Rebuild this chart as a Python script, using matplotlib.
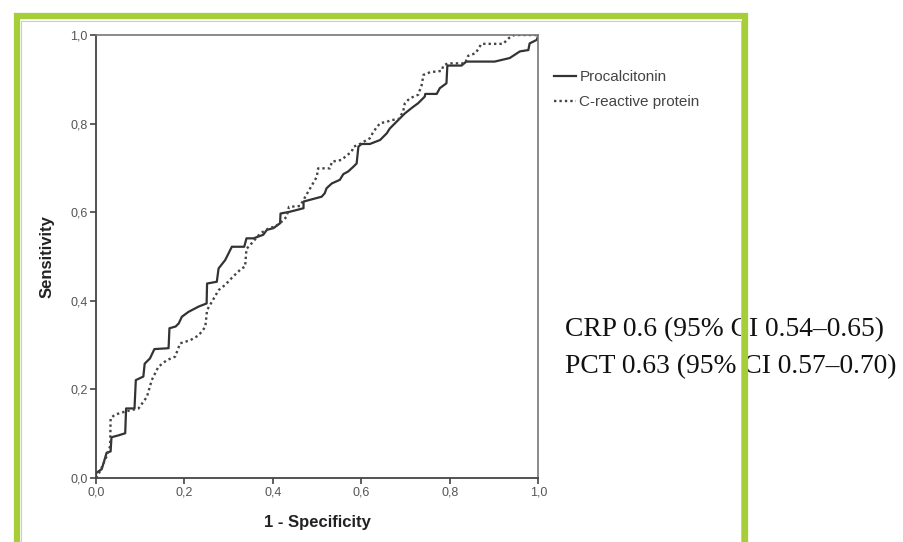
import matplotlib
matplotlib.use("Agg")
import matplotlib.pyplot as plt
from matplotlib.lines import Line2D

# ROC curve points
pct_fpr = [0, 0, 0.013, 0.024, 0.033, 0.035, 0.05, 0.066, 0.068, 0.087,
           0.09, 0.107, 0.11, 0.122, 0.132, 0.164, 0.166, 0.18, 0.187, 0.194,
           0.209, 0.232, 0.25, 0.251, 0.273, 0.277, 0.292, 0.307, 0.335, 0.34,
           0.356, 0.378, 0.386, 0.401, 0.416, 0.417, 0.438, 0.469, 0.469, 0.51,
           0.517, 0.521, 0.533, 0.551, 0.559, 0.57, 0.582, 0.589, 0.593, 0.6,
           0.619, 0.642, 0.657, 0.664, 0.676, 0.687, 0.698, 0.717, 0.728, 0.743,
           0.744, 0.77, 0.777, 0.792, 0.794, 0.826, 0.837, 0.901, 0.935, 0.958,
           0.977, 0.98, 0.996, 1.0]
pct_tpr = [0, 0.011, 0.02, 0.057, 0.06, 0.092, 0.096, 0.101, 0.157, 0.157,
           0.221, 0.229, 0.258, 0.27, 0.291, 0.293, 0.338, 0.342, 0.349, 0.364,
           0.375, 0.387, 0.394, 0.439, 0.443, 0.473, 0.492, 0.522, 0.522, 0.541,
           0.541, 0.549, 0.56, 0.564, 0.575, 0.597, 0.601, 0.609, 0.624, 0.635,
           0.643, 0.654, 0.665, 0.673, 0.686, 0.692, 0.703, 0.71, 0.748, 0.754,
           0.754, 0.763, 0.778, 0.789, 0.801, 0.812, 0.823, 0.838, 0.846, 0.861,
           0.867, 0.867, 0.88, 0.891, 0.931, 0.931, 0.94, 0.94, 0.948, 0.963,
           0.966, 0.981, 0.989, 1.0]

crp_fpr = [0, 0.009, 0.024, 0.032, 0.033, 0.043, 0.066, 0.096, 0.115, 0.126,
           0.141, 0.16, 0.179, 0.19, 0.213, 0.232, 0.247, 0.251, 0.262, 0.277,
           0.292, 0.31, 0.329, 0.337, 0.34, 0.352, 0.371, 0.393, 0.404, 0.419,
           0.431, 0.436, 0.461, 0.469, 0.484, 0.499, 0.502, 0.529, 0.533, 0.555,
           0.563, 0.578, 0.582, 0.593, 0.619, 0.627, 0.642, 0.657, 0.668, 0.684,
           0.694, 0.698, 0.709, 0.728, 0.736, 0.740, 0.755, 0.781, 0.785, 0.795,
           0.834, 0.841, 0.858, 0.871, 0.920, 0.933, 0.945, 1.0]
crp_tpr = [0, 0.015, 0.049, 0.072, 0.135, 0.143, 0.150, 0.157, 0.183, 0.221,
           0.251, 0.266, 0.274, 0.304, 0.311, 0.322, 0.341, 0.379, 0.398, 0.424,
           0.436, 0.455, 0.473, 0.477, 0.517, 0.53, 0.552, 0.565, 0.567, 0.578,
           0.59, 0.612, 0.614, 0.628, 0.654, 0.680, 0.699, 0.699, 0.714, 0.718,
           0.725, 0.737, 0.748, 0.752, 0.767, 0.782, 0.801, 0.804, 0.808, 0.810,
           0.827, 0.846, 0.857, 0.865, 0.887, 0.910, 0.916, 0.919, 0.931, 0.936,
           0.936, 0.953, 0.959, 0.980, 0.980, 0.993, 1.0, 1.0]

tick_vals = [0.0, 0.2, 0.4, 0.6, 0.8, 1.0]
tick_labels = ["0,0", "0,2", "0,4", "0,6", "0,8", "1,0"]
auc_lines = ["CRP 0.6 (95% CI 0.54\u20130.65)", "PCT 0.63 (95% CI 0.57\u20130.70)"]

W, H = 904, 542
fig = plt.figure(figsize=(W / 100, H / 100), dpi=100)
fig.patch.set_facecolor("white")

# axes box in pixels: x 96..538, y 35..478
ax = fig.add_axes([96 / W, 1 - 478 / H, (538.5 - 96) / W, (478 - 35) / H])
ax.plot(pct_fpr, pct_tpr, color="#333333", lw=1.6, label="Procalcitonin")
ax.plot(crp_fpr, crp_tpr, color="#444444", lw=1.7, ls=(0, (1, 1.3)),
        label="C-reactive protein")
ax.set_xlim(0, 1)
ax.set_ylim(0, 1)
ax.set_xticks(tick_vals)
ax.set_xticklabels(tick_labels)
ax.set_yticks(tick_vals)
ax.set_yticklabels(tick_labels)
ax.tick_params(direction="out", length=4, width=1.2, colors="#444444",
               labelsize=9, labelcolor="#555555", pad=2)
for lab in ax.get_xticklabels() + ax.get_yticklabels():
    lab.set_family("Liberation Sans")
for s in ["left", "bottom"]:
    ax.spines[s].set_color("#444444")
    ax.spines[s].set_linewidth(1.3)
for s in ["top", "right"]:
    ax.spines[s].set_color("#777777")
    ax.spines[s].set_linewidth(1.2)

ax.set_xlabel("1 - Specificity", fontsize=12, fontweight="bold",
              family="Liberation Sans", color="#222222", labelpad=12)
ax.set_ylabel("Sensitivity", fontsize=12, fontweight="bold",
              family="Liberation Sans", color="#222222", labelpad=11)

leg = ax.legend(loc="upper left", bbox_to_anchor=(548 / W, 1 - 64 / H),
                bbox_transform=fig.transFigure, frameon=False,
                prop={"family": "Liberation Sans", "size": 11},
                handlelength=1.45, handletextpad=0.2, labelspacing=0.72,
                borderaxespad=0)
for t in leg.get_texts():
    t.set_color("#444444")

for i, line in enumerate(auc_lines):
    fig.text(565 / W, 1 - (330 + 37 * i) / H, line, family="Liberation Serif",
             fontsize=19.8, color="#111111", va="center", ha="left")

# green frame around the picture (open at the bottom), drawn over the text
green = "#a6ce39"
def px_line(xs, ys, **kw):
    fig.add_artist(Line2D([x / W for x in xs], [1 - y / H for y in ys],
                          transform=fig.transFigure, **kw))

px_line([21, 21, 741, 741], [542, 20.5, 20.5, 542], color="#cccccc", lw=0.8, zorder=9)
px_line([17, 17, 745, 745], [542, 16, 16, 542], color=green, lw=4.5,
        solid_joinstyle="miter", zorder=10)

fig.savefig("out.png", dpi=100, facecolor="white")
